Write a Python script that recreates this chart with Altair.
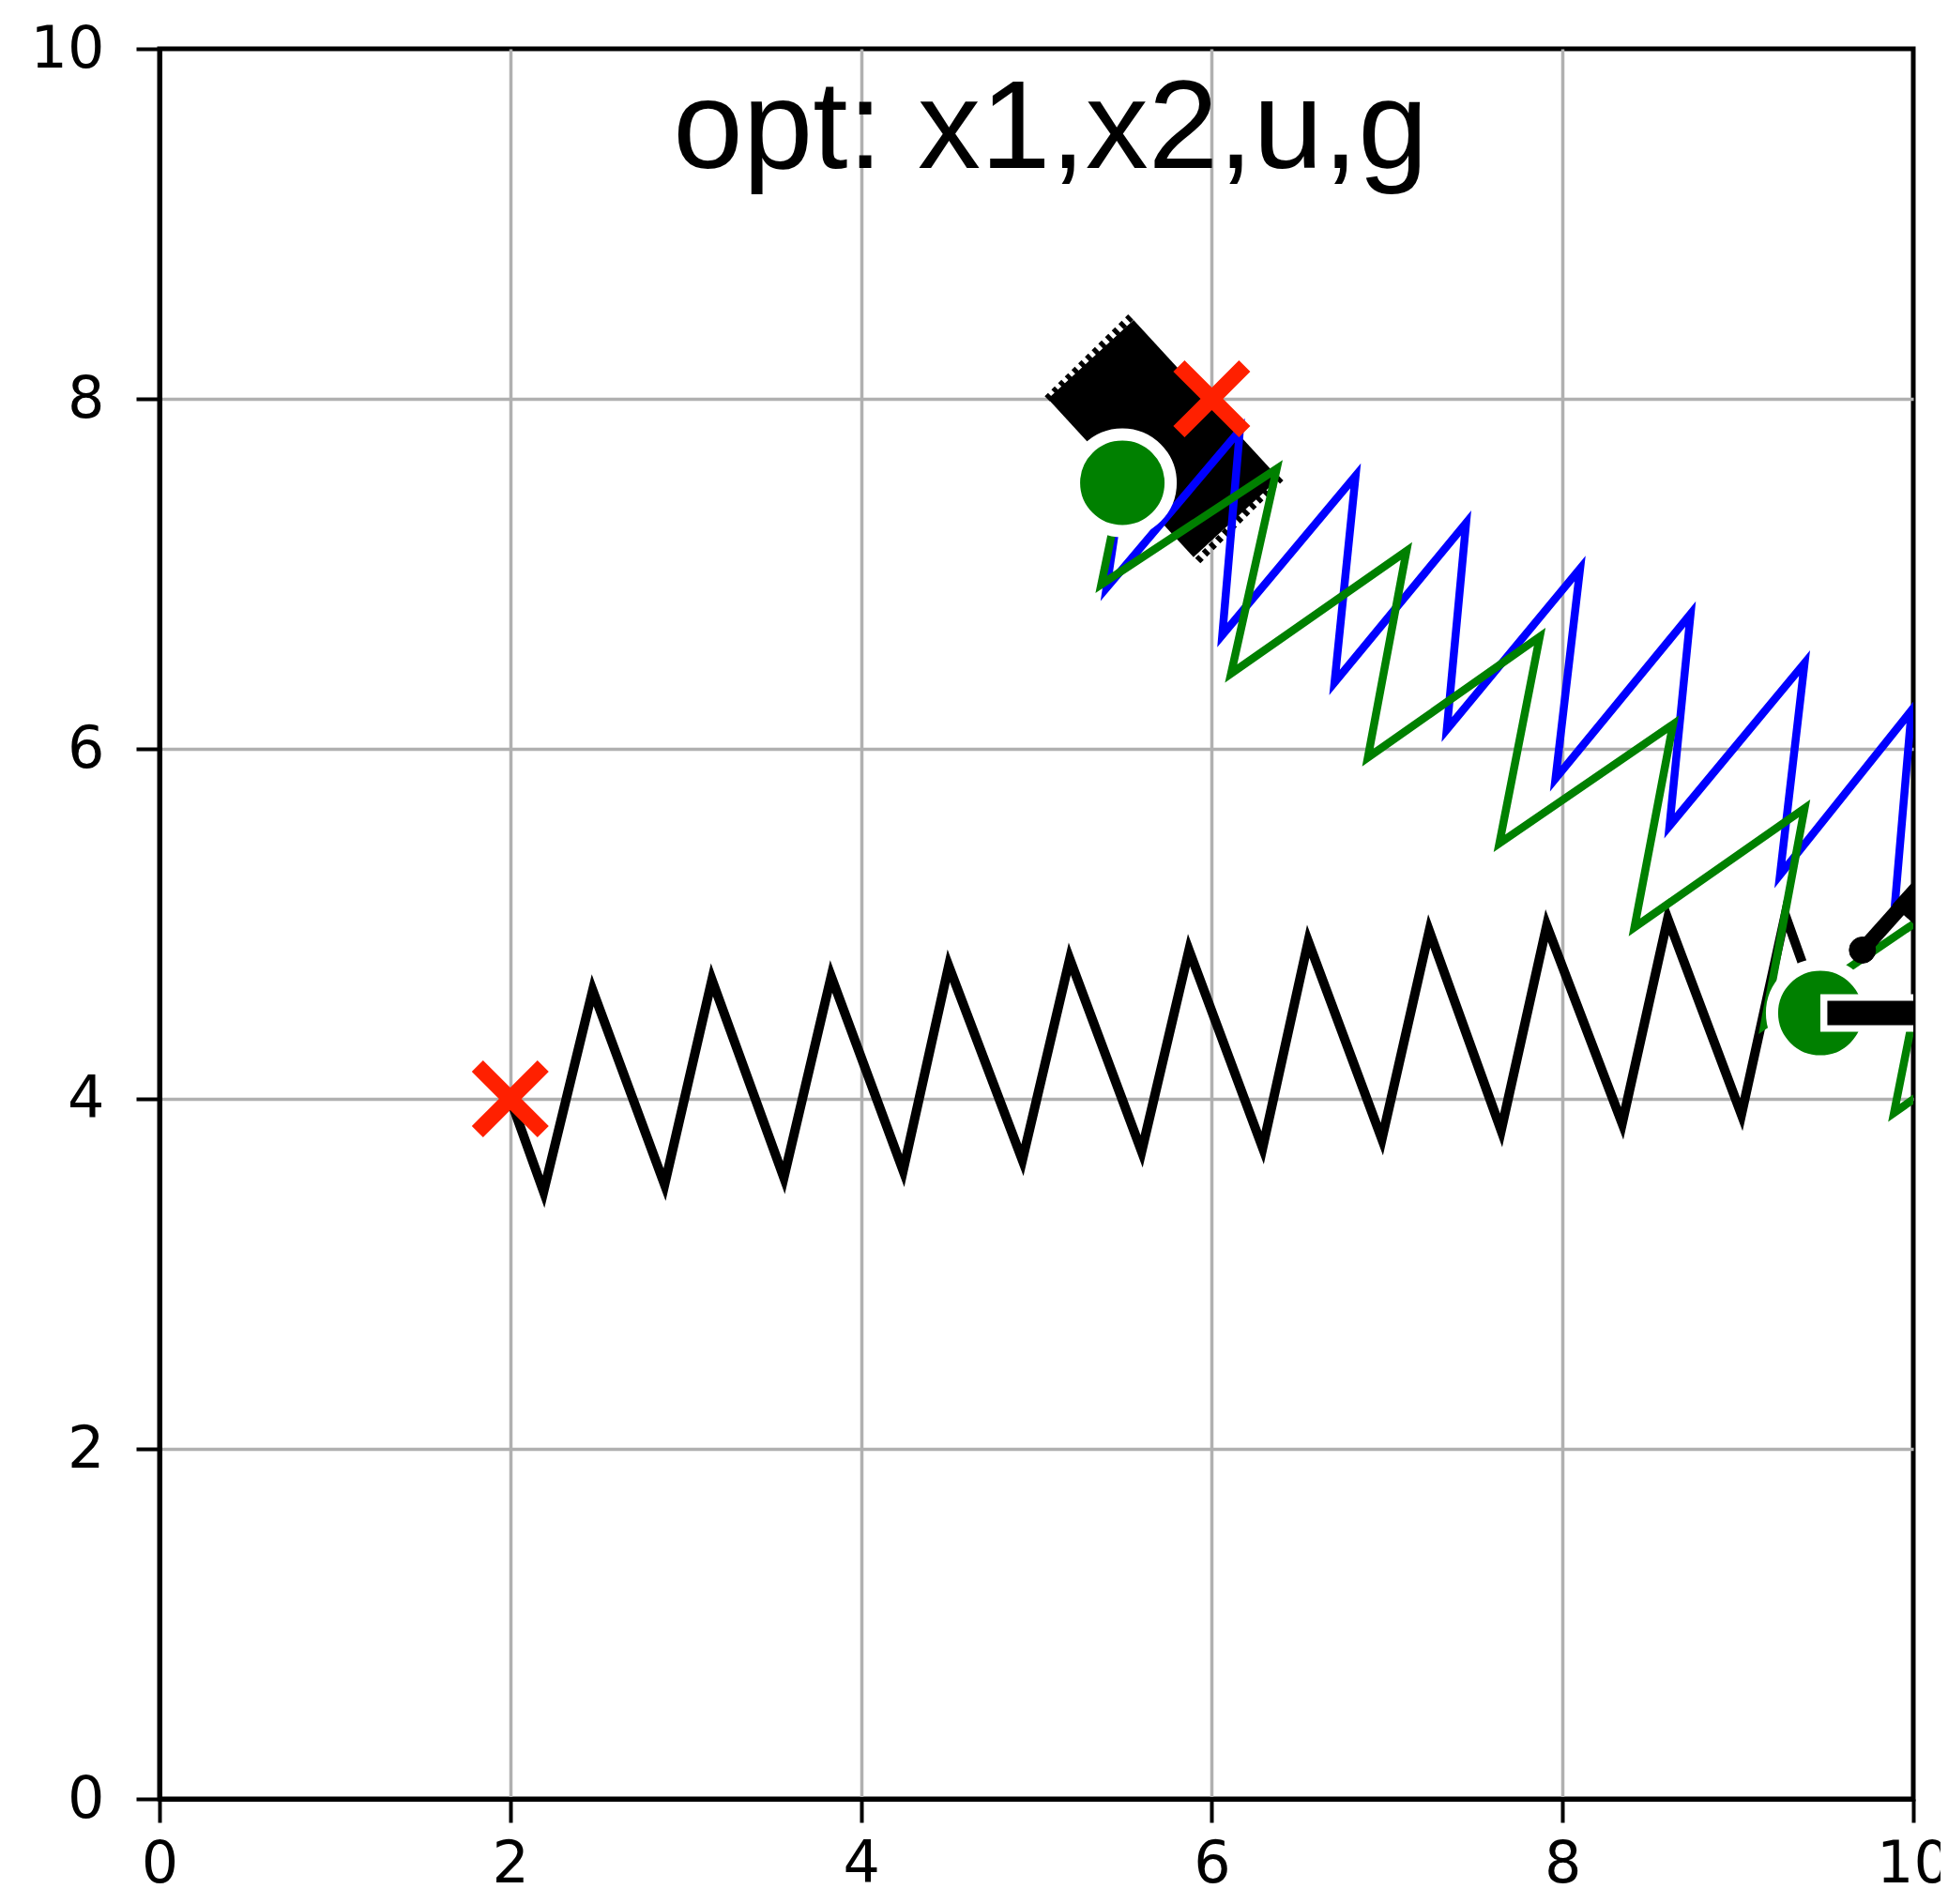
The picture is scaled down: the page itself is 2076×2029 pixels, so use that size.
import altair as alt
import pandas as pd

# ---- data ----
# black spring: anchor (red X) -> C joint
SPRING_X = [2.00, 2.19, 2.47, 2.88, 3.15, 3.56, 3.83, 4.24, 4.50, 4.92, 5.19, 5.60,
            5.87, 6.29, 6.55, 6.97, 7.24, 7.65, 7.91, 8.34, 8.60, 9.02, 9.27, 9.47]
SPRING_Y = [4.00, 3.47, 4.62, 3.51, 4.68, 3.55, 4.70, 3.59, 4.76, 3.65, 4.80, 3.70,
            4.85, 3.72, 4.90, 3.77, 4.96, 3.82, 4.99, 3.86, 5.03, 3.91, 5.05, 4.49]

# blue spring
BLUE_X = [5.49, 5.40, 6.16, 6.06, 6.82, 6.70, 7.45, 7.34, 8.10, 7.96, 8.73, 8.61,
          9.38, 9.24, 9.99, 9.89]
BLUE_Y = [7.52, 6.92, 7.82, 6.65, 7.56, 6.38, 7.29, 6.11, 7.03, 5.83, 6.77, 5.56,
          6.49, 5.28, 6.22, 5.05]

# green spring
GREEN_X = [5.49, 5.37, 6.37, 6.11, 7.11, 6.89, 7.87, 7.64, 8.63, 8.41, 9.38, 9.15,
           10.12, 9.89, 10.86]
GREEN_Y = [7.52, 6.94, 7.60, 6.43, 7.13, 5.95, 6.64, 5.46, 6.14, 4.98, 5.66, 4.42,
           5.08, 3.92, 4.60]

# black body (top-left): centre line and its two serrated short edges
BODY1_X = [5.31, 6.14]
BODY1_Y = [8.225, 7.32]
EDGE1_X = [5.062, 5.538]
EDGE1_Y = [8.000, 8.467]
EDGE2_X = [6.393, 5.912]
EDGE2_Y = [7.549, 7.067]

# black arm (right edge) and its wide part
ARM2_X = [9.71, 10.30]
ARM2_Y = [4.85, 5.51]
BODY2_X = [9.98, 10.50]
BODY2_Y = [5.02, 5.60]
BLOB_X = [9.71]
BLOB_Y = [4.85]

# joints (green circles) and bar of the C joint
JOINT_X = [5.49, 9.47]
JOINT_Y = [7.52, 4.49]
BAR_X = [9.47, 10.40]
BAR_Y = [4.49, 4.49]

# targets (red crosses)
TARGET_X = [2.0, 6.0]
TARGET_Y = [4.0, 8.0]

TICKS = [0, 2, 4, 6, 8, 10]
TITLE_TEXT = "opt: x1,x2,u,g"


def frame(xs, ys):
    return pd.DataFrame({"x": xs, "y": ys, "i": list(range(len(xs)))})


GRID_OPACITY = {"condition": {"test": "datum.value == 0 || datum.value == 10", "value": 0},
                "value": 1}

X = alt.X("x:Q",
          scale=alt.Scale(domain=[0, 10], nice=False, zero=False),
          axis=alt.Axis(values=TICKS, title=None, format="d", labelFlush=False,
                        labelOverlap=False, labelPadding=14, gridOpacity=GRID_OPACITY))
Y = alt.Y("y:Q",
          scale=alt.Scale(domain=[0, 10], nice=False, zero=False),
          axis=alt.Axis(values=TICKS, title=None, format="d", labelFlush=False,
                        labelOverlap=False, labelPadding=34, gridOpacity=GRID_OPACITY))
ORD = alt.Order("i:Q")


def line(xs, ys, **kw):
    return alt.Chart(frame(xs, ys)).mark_line(clip=True, **kw).encode(x=X, y=Y, order=ORD)


def points(xs, ys, **kw):
    return alt.Chart(frame(xs, ys)).mark_point(clip=True, opacity=1, **kw).encode(x=X, y=Y)


body1 = line(BODY1_X, BODY1_Y, color="black", strokeWidth=124, strokeCap="butt")
teeth1 = line(EDGE1_X, EDGE1_Y, color="black", strokeWidth=8, strokeCap="butt",
              strokeDash=[5, 5])
teeth2 = line(EDGE2_X, EDGE2_Y, color="black", strokeWidth=8, strokeCap="butt",
              strokeDash=[5, 5])
spring = line(SPRING_X, SPRING_Y, color="black", strokeWidth=10, strokeJoin="miter")
blue = line(BLUE_X, BLUE_Y, color="#0000ff", strokeWidth=8.5, strokeJoin="miter")
green = line(GREEN_X, GREEN_Y, color="#008000", strokeWidth=8.5, strokeJoin="miter")

joints = points(JOINT_X, JOINT_Y, shape="circle", filled=True, size=10609,
                fill="#008000", stroke="white", strokeWidth=13,
                fillOpacity=1, strokeOpacity=1)

bar_white = line(BAR_X, BAR_Y, color="white", strokeWidth=40, strokeCap="butt")
bar_black = line([BAR_X[0] + 0.04, BAR_X[1]], BAR_Y, color="black", strokeWidth=26,
                 strokeCap="butt")

arm2 = line(ARM2_X, ARM2_Y, color="black", strokeWidth=16, strokeCap="butt")
body2 = line(BODY2_X, BODY2_Y, color="black", strokeWidth=50, strokeCap="butt")
blob = points(BLOB_X, BLOB_Y, shape="circle", filled=True, size=784, fill="black",
              stroke="black", strokeWidth=1, fillOpacity=1)

targets = points(TARGET_X, TARGET_Y, shape="M-1,-1L1,1M-1,1L1,-1", filled=False,
                 size=4900, stroke="#ff2000", strokeWidth=17, strokeCap="butt",
                 strokeOpacity=1)

title = alt.Chart(frame([0], [0])).mark_text(
    font="Liberation Sans", fontSize=134, align="center", baseline="alphabetic",
    color="black"
).encode(x=alt.datum(5.08), y=alt.datum(9.32), text=alt.value(TITLE_TEXT))

chart = alt.layer(
    body1, teeth1, teeth2, spring, blue, green, joints, bar_white, bar_black, arm2,
    body2, blob, targets, title
).properties(
    width=1869, height=1865,
    autosize=alt.AutoSizeParams(type="none"),
    padding={"left": 162, "top": 44, "right": 29, "bottom": 104},
    background="white",
).configure_view(
    stroke="black", strokeWidth=5
).configure_axis(
    grid=True, gridColor="#b0b0b0", gridWidth=3.5,
    domain=True, domainColor="black", domainWidth=5,
    ticks=True, tickColor="black", tickWidth=4, tickSize=25,
    labelFont="DejaVu Sans", labelFontSize=62, labelColor="black",
)

chart.save("out.html", embed_options={"renderer": "svg", "actions": False})
